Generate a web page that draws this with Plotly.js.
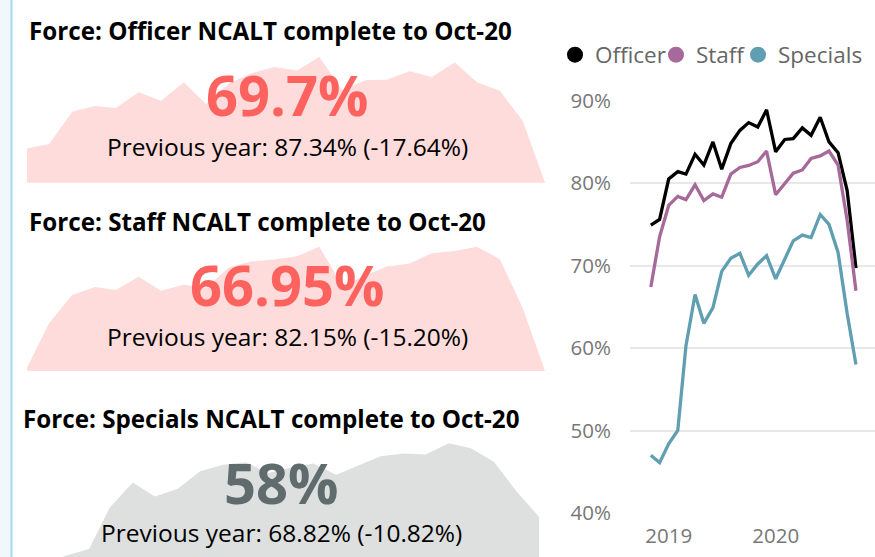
<!DOCTYPE html>
<html>
<head>
<meta charset="utf-8">
<script src="https://cdn.plot.ly/plotly-3.0.1.min.js"></script>
<style>
html,body{margin:0;padding:0;background:#fff;}
#chart{width:875px;height:557px;}
</style>
</head>
<body>
<div id="chart"></div>
<script>
// ---- data ----
var months = ['2018-11-01','2018-12-01','2019-01-01','2019-02-01','2019-03-01','2019-04-01',
              '2019-05-01','2019-06-01','2019-07-01','2019-08-01','2019-09-01','2019-10-01',
              '2019-11-01','2019-12-01','2020-01-01','2020-02-01','2020-03-01','2020-04-01',
              '2020-05-01','2020-06-01','2020-07-01','2020-08-01','2020-09-01','2020-10-01'];
var officer  = [74.9, 75.6, 80.5, 81.4, 81.1, 83.5, 82.2, 85.0, 81.7, 84.8, 86.4, 87.34,
                86.8, 88.9, 83.8, 85.3, 85.4, 86.7, 85.8, 88.0, 85.0, 83.7, 79.1, 69.7];
var staff    = [67.4, 73.5, 77.3, 78.4, 78.0, 79.8, 77.9, 78.7, 78.3, 81.1, 81.9, 82.15,
                82.6, 83.9, 78.6, 79.9, 81.2, 81.6, 83.0, 83.3, 83.9, 82.2, 75.5, 66.95];
var specials = [47.0, 46.1, 48.4, 50.0, 60.3, 66.5, 63.0, 64.9, 69.3, 70.9, 71.5, 68.82,
                70.2, 71.2, 68.4, 70.7, 73.0, 73.7, 73.4, 76.2, 75.0, 71.6, 64.2, 58.0];
var seriesNames = ['Officer', 'Staff', 'Specials'];
var cardTitles = ['Force: Officer NCALT complete to Oct-20',
                  'Force: Staff NCALT complete to Oct-20',
                  'Force: Specials NCALT complete to Oct-20'];
var currentValues = ['69.7%', '66.95%', '58%'];
var previousValues = ['87.34%', '82.15%', '68.82%'];
var changeValues = ['-17.64%', '-15.20%', '-10.82%'];
var yTickVals = [40, 50, 60, 70, 80, 90];
var yTickText = ['40%', '50%', '60%', '70%', '80%', '90%'];

// ---- helpers ----
var W = 875, H = 557;
function px(x){ return x / W; }
function py(y){ return 1 - y / H; }
var FONT = 'Open Sans, Noto Sans, sans-serif';
var colors = ['#000000', '#A66999', '#5F9FB1'];

var traces = [];
// sparkline areas
var areaData = [officer, staff, specials];
var areaFill = ['#FDDCDB', '#FDDCDB', '#DEE0E0'];
for (var i = 0; i < 3; i++) {
  traces.push({
    x: months, y: areaData[i], type: 'scatter', mode: 'lines',
    line: {width: 0, color: areaFill[i]}, fill: 'tozeroy', fillcolor: areaFill[i],
    xaxis: 'x' + (i + 2), yaxis: 'y' + (i + 2), showlegend: false, hoverinfo: 'skip'
  });
}
// line chart
var lineData = [officer, staff, specials];
for (var j = 0; j < 3; j++) {
  traces.push({
    x: months, y: lineData[j], type: 'scatter', mode: 'lines', name: seriesNames[j],
    line: {color: colors[j], width: 3.3}, xaxis: 'x', yaxis: 'y', showlegend: false
  });
}
// legend entries (one legend each for precise placement)
var legendKeys = ['legend', 'legend2', 'legend3'];
for (var k = 0; k < 3; k++) {
  traces.push({
    x: [null], y: [null], type: 'scatter', mode: 'markers', name: seriesNames[k],
    marker: {color: colors[k], size: 18, symbol: 'circle'},
    xaxis: 'x', yaxis: 'y', showlegend: true, legend: legendKeys[k]
  });
}

function legendCfg(x) {
  return {x: px(x), y: py(55), xanchor: 'left', yanchor: 'middle', orientation: 'h',
          bgcolor: 'rgba(0,0,0,0)', borderwidth: 0, itemwidth: 30,
          font: {family: FONT, size: 22.5, color: '#666666'}};
}

var annotations = [];
var titleY = [31, 221.5, 418];
var titleX = [27, 27, 21];
var numY = [94, 284, 482];
var prevY = [146.5, 336.5, 532];
var centerX = [287, 287, 281];
var numColor = ['#FD625E', '#FD625E', '#5F6B6D'];
for (var c = 0; c < 3; c++) {
  annotations.push({
    xref: 'paper', yref: 'paper', x: px(titleX[c]), y: py(titleY[c]), xanchor: 'left', yanchor: 'middle',
    text: '<b>' + cardTitles[c] + '</b>', showarrow: false,
    font: {family: FONT, size: 24.2, color: '#000000'}
  });
  annotations.push({
    xref: 'paper', yref: 'paper', x: px(centerX[c]), y: py(numY[c]), xanchor: 'center', yanchor: 'middle',
    text: '<b>' + currentValues[c] + '</b>', showarrow: false,
    font: {family: FONT, size: 56, color: numColor[c]}
  });
  annotations.push({
    xref: 'paper', yref: 'paper', x: px(centerX[c]), y: py(prevY[c]), xanchor: 'center', yanchor: 'middle',
    text: 'Previous year: ' + previousValues[c] + ' (' + changeValues[c] + ')', showarrow: false,
    font: {family: FONT, size: 24.5, color: '#000000'}
  });
}

var sparkX = {showgrid: false, zeroline: false, showticklabels: false, ticks: '', fixedrange: true,
              type: 'date', range: [months[0], months[months.length - 1]]};
function sparkAxisX(x0, x1) {
  var o = JSON.parse(JSON.stringify(sparkX)); o.domain = [px(x0), px(x1)]; return o;
}
function sparkAxisY(yTop, yBot, range) {
  return {showgrid: false, zeroline: false, showticklabels: false, ticks: '', fixedrange: true,
          domain: [py(yBot), py(yTop)], range: range};
}
// card 3 is cropped by the canvas bottom: keep its scale, cut range at the edge
var sp3Max = Math.max.apply(null, specials);
var sp3Last = specials[specials.length - 1];
var sp3PxPerUnit = (516.7 - 443.3) / (sp3Max - sp3Last);
var sp3Bottom = sp3Max - (557 - 443.3) / sp3PxPerUnit;

var layout = {
  width: W, height: H, margin: {l: 0, r: 0, t: 0, b: 0},
  paper_bgcolor: '#ffffff', plot_bgcolor: 'rgba(0,0,0,0)',
  font: {family: FONT},
  showlegend: true,
  legend: legendCfg(555), legend2: legendCfg(656), legend3: legendCfg(738),
  xaxis: {domain: [px(630), 1], type: 'date', range: ['2018-08-22', '2020-12-05'],
          tick0: '2019-01-01', dtick: 'M12', tickformat: '%Y', showgrid: false, zeroline: false,
          ticks: '', ticklabelstandoff: 8, tickfont: {family: FONT, size: 20.5, color: '#777777'}},
  yaxis: {domain: [py(513), py(100.7)], range: [40, 90], tickvals: yTickVals, ticktext: yTickText,
          showgrid: true, gridcolor: '#E8E8E8', gridwidth: 2, zeroline: false, ticks: '',
          ticklabelstandoff: 18, tickfont: {family: FONT, size: 20.5, color: '#777777'}},
  xaxis2: sparkAxisX(27, 545), yaxis2: sparkAxisY(56.7, 182.7, [Math.min.apply(null, officer), Math.max.apply(null, officer)]),
  xaxis3: sparkAxisX(27, 545), yaxis3: sparkAxisY(246.7, 371, [Math.min.apply(null, staff), Math.max.apply(null, staff)]),
  xaxis4: sparkAxisX(21, 539), yaxis4: sparkAxisY(443.3, 557, [sp3Bottom, sp3Max]),
  annotations: annotations,
  shapes: [
    {type: 'rect', xref: 'paper', yref: 'paper', x0: 0, x1: px(11), y0: 0, y1: 1,
     fillcolor: '#F1F8FC', line: {width: 0}, layer: 'below'},
    {type: 'line', xref: 'paper', yref: 'paper', x0: px(11.5), x1: px(11.5), y0: 0, y1: 1,
     line: {color: '#A6D8EF', width: 2}}
  ]
};

Plotly.newPlot('chart', traces, layout, {staticPlot: true, displayModeBar: false});
</script>
</body>
</html>
